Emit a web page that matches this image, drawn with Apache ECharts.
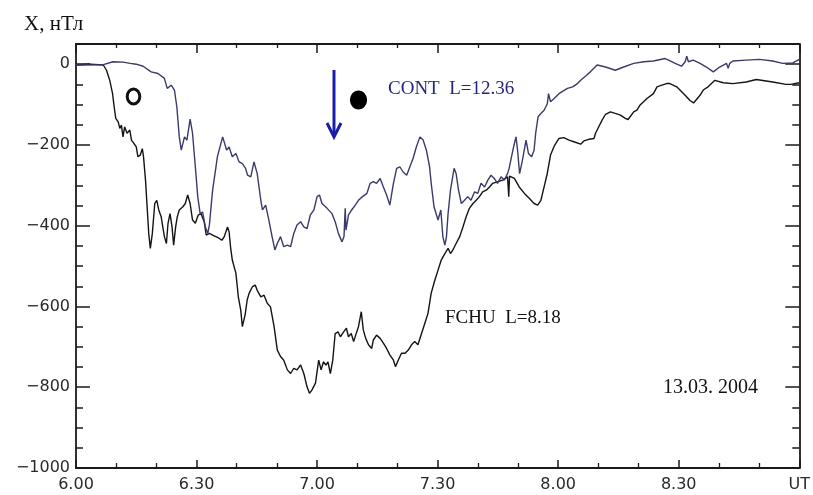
<!DOCTYPE html>
<html><head><meta charset="utf-8">
<script src="https://cdn.jsdelivr.net/npm/echarts@6/dist/echarts.min.js"></script>
<style>html,body{margin:0;padding:0;background:#fff}#c{width:813px;height:495px}</style>
</head><body><div id="c"></div>
<script>
// time in minutes after 06:00 UT, X component in nT
const contT = [0,6.8,9.2,11.7,13.5,15.0,16.7,18.7,20.4,22.0,22.7,23.7,24.5,25.1,25.7,26.2,27.0,27.6,28.4,29.0,29.7,30.3,30.9,31.5,32.2,32.8,33.2,34.0,35.2,36.5,36.9,37.5,38.1,38.9,39.8,40.6,41.4,42.2,42.7,43.5,44.3,45.1,46.0,46.4,47.2,48.0,48.8,49.5,50.1,50.9,51.7,52.6,53.4,54.2,55.0,55.9,56.7,57.5,58.3,59.2,60.0,60.6,61.2,62.5,63.7,64.5,65.3,66.2,66.7,67.0,67.2,67.8,68.6,69.5,70.3,71.3,72.4,73.2,74.0,74.8,75.7,76.5,77.3,78.1,79.0,79.8,80.6,81.4,82.3,83.1,83.9,84.7,85.6,86.4,87.2,88.0,88.4,89.1,90.1,90.8,91.3,91.8,92.2,92.6,93.2,94.1,94.6,95.2,95.9,96.7,97.5,98.3,99.2,100.0,100.8,101.7,102.5,103.3,104.1,104.9,105.8,106.6,107.4,107.8,108.2,108.9,109.5,109.9,110.4,111.1,112.0,112.6,113.4,114.0,114.4,115.0,115.7,116.5,117.3,117.6,118.1,119.0,120.2,122.3,123.6,124.8,125.6,127.0,128.0,129.7,131.8,134.2,136.3,138.8,141.3,143.7,146.6,147.5,149.1,150.7,151.6,152.0,152.4,153.6,155.3,156.9,158.6,160.2,161.9,162.3,162.7,163.5,166.8,170.1,173.4,175.9,178.4,180];
const contX = [-2,-1,6,5,2,0,-5,-19,-23,-35,-60,-52,-64,-106,-180,-213,-180,-188,-136,-171,-254,-328,-370,-366,-403,-419,-398,-312,-229,-180,-176,-213,-205,-229,-221,-242,-246,-258,-275,-279,-242,-271,-337,-361,-349,-386,-427,-460,-444,-427,-452,-448,-452,-419,-398,-390,-403,-407,-374,-361,-328,-324,-345,-357,-370,-390,-419,-440,-427,-357,-411,-374,-361,-349,-337,-328,-320,-295,-291,-295,-283,-304,-324,-349,-295,-258,-254,-267,-275,-254,-233,-205,-180,-188,-213,-254,-295,-353,-386,-361,-427,-448,-427,-370,-312,-258,-271,-312,-345,-337,-328,-337,-316,-320,-295,-304,-287,-275,-283,-295,-279,-287,-271,-258,-238,-205,-180,-213,-271,-238,-188,-221,-229,-213,-171,-130,-122,-114,-98,-73,-93,-85,-73,-60,-56,-48,-40,-28,-19,-2,-7,-15,-7,2,6,8,14,10,2,-5,6,20,6,10,2,-7,-19,-7,2,-10,2,8,10,12,8,2,3,12];
const fchuT = [0,3.5,6.8,7.6,8.4,9.1,9.5,9.9,10.5,10.9,11.3,11.7,12.1,12.7,13.4,13.8,14.4,15.0,15.4,16.0,16.5,16.8,17.3,17.7,18.1,18.5,19.0,19.6,20.1,20.6,21.2,21.6,22.0,22.5,22.9,23.4,23.9,24.3,24.8,25.2,25.7,26.6,27.2,27.8,28.4,29.0,29.7,30.4,31.1,31.9,32.4,33.2,34.0,34.8,35.6,36.3,36.9,37.7,38.1,38.5,38.9,39.8,40.4,41.0,41.4,42.1,42.6,43.1,43.9,44.6,45.1,46.0,46.8,47.6,48.4,49.3,50.1,50.9,51.7,52.6,53.4,54.2,55.0,55.9,56.7,57.5,58.1,58.7,59.6,60.4,61.0,61.6,62.2,62.7,63.3,63.9,64.5,65.2,65.8,66.6,67.3,67.8,68.5,69.1,69.6,70.3,71.0,71.5,72.1,72.8,73.6,74.0,74.8,75.7,76.5,77.3,78.1,79.0,79.5,80.2,81.0,81.9,82.7,83.5,84.3,85.1,86.0,86.8,87.6,88.4,89.3,90.1,90.9,91.8,92.6,93.2,93.8,94.6,95.5,96.3,97.1,97.9,98.8,99.6,100.4,101.2,102.1,102.9,103.7,105.0,106.2,107.4,107.7,107.9,109.1,110.3,111.6,112.8,114.0,114.9,115.7,116.5,117.3,118.1,119.0,120.2,121.4,122.7,123.9,125.6,126.4,127.6,128.9,129.3,130.1,130.9,131.8,133.0,134.2,135.5,136.7,137.4,138.8,139.6,140.4,142.1,143.7,144.6,145.8,147.0,147.8,149.5,151.6,152.8,153.7,155.3,156.1,157.3,159.0,161.1,163.5,166.8,169.3,173.4,176.7,177.9,180];
const fchuX = [-2,0,-2,-15,-40,-73,-106,-134,-143,-159,-151,-180,-155,-171,-163,-188,-196,-205,-229,-225,-209,-229,-287,-353,-419,-456,-419,-345,-337,-361,-378,-403,-427,-444,-394,-370,-403,-448,-403,-378,-361,-353,-345,-324,-345,-386,-394,-374,-370,-390,-423,-419,-423,-427,-431,-436,-427,-403,-415,-456,-485,-518,-576,-609,-650,-620,-584,-567,-551,-547,-560,-576,-572,-592,-601,-650,-708,-724,-733,-757,-766,-753,-757,-745,-766,-799,-815,-807,-790,-733,-757,-737,-745,-737,-766,-733,-667,-663,-675,-663,-654,-675,-667,-687,-671,-650,-613,-658,-679,-695,-704,-683,-671,-679,-691,-704,-720,-733,-749,-733,-716,-716,-708,-695,-687,-695,-667,-642,-617,-567,-535,-510,-485,-469,-456,-469,-460,-444,-427,-403,-378,-357,-345,-337,-328,-316,-312,-304,-295,-291,-287,-279,-328,-277,-283,-304,-320,-332,-345,-349,-337,-304,-270,-225,-203,-184,-182,-188,-192,-198,-190,-186,-184,-171,-155,-139,-124,-118,-122,-126,-134,-137,-118,-114,-101,-85,-73,-56,-52,-48,-48,-56,-77,-90,-96,-77,-64,-56,-40,-46,-48,-44,-38,-44,-50,-50,-46];
const xTickLabels = ['6.00','6.30','7.00','7.30','8.00','8.30','UT'];
const yTickLabels = ['\u22121000','\u2212800','\u2212600','\u2212400','\u2212200','0'];

const zip = (t, v) => t.map((x, i) => [x, v[i]]);
const axisFont = { fontFamily: 'DejaVu Sans', fontSize: 16, color: '#2a2a2a' };
const lineCol = '#1a1a1a';

const chart = echarts.init(document.getElementById('c'), null, { renderer: 'canvas' });
const xBase = (pos, major, minor, labels) => ({
  type: 'value', position: pos, min: 0, max: 180, interval: 30,
  axisLine: { show: true, onZero: false, lineStyle: { color: lineCol, width: 1.8 } },
  axisTick: { show: true, inside: true, length: major, lineStyle: { color: lineCol, width: 1.5 } },
  minorTick: { show: true, splitNumber: 3, length: minor, lineStyle: { color: lineCol, width: 1.3 } },
  splitLine: { show: false },
  axisLabel: labels ? Object.assign({ margin: 9, formatter: v => xTickLabels[Math.round(v / 30)] }, axisFont) : { show: false }
});
const yBase = (pos, interval, len, labels, line) => ({
  type: 'value', position: pos, min: -1000, max: 50, interval: interval,
  axisLine: { show: line, onZero: false, lineStyle: { color: lineCol, width: 1.8 } },
  axisTick: { show: true, inside: true, length: len, lineStyle: { color: lineCol, width: 1.5 } },
  splitLine: { show: false },
  axisLabel: labels ? Object.assign({ margin: 6, showMaxLabel: false,
    formatter: v => (v <= 0 ? yTickLabels[Math.round((v + 1000) / 200)] : '') }, axisFont) : { show: false }
});

chart.setOption({
  animation: false,
  backgroundColor: '#fff',
  grid: { left: 76, right: 10, top: 44, bottom: 27, containLabel: false },
  xAxis: [ xBase('bottom', 8, 5, true), xBase('top', 9, 4, false) ],
  yAxis: [
    yBase('left', 200, 14, true, true),
    yBase('left', 50, 7, false, false),
    yBase('right', 200, 14, false, true),
    yBase('right', 50, 7, false, false)
  ],
  series: [
    { name: 'FCHU L=8.18', type: 'line', data: zip(fchuT, fchuX), showSymbol: false, symbol: 'none',
      lineStyle: { color: '#141414', width: 1.4 }, z: 3 },
    { name: 'CONT L=12.36', type: 'line', data: zip(contT, contX), showSymbol: false, symbol: 'none',
      lineStyle: { color: '#3a3a6c', width: 1.4 }, z: 4 }
  ],
  graphic: [
    { type: 'text', left: 24, top: 14, style: { text: 'X, нТл', font: '21px "Liberation Serif"', fill: '#111' } },
    { type: 'ellipse', shape: { cx: 133.5, cy: 96.5, rx: 6.3, ry: 7.4 }, style: { fill: 'none', stroke: '#111', lineWidth: 3 } },
    { type: 'ellipse', shape: { cx: 358.5, cy: 100, rx: 8.5, ry: 9.5 }, style: { fill: '#000' } },
    { type: 'line', shape: { x1: 334, y1: 70, x2: 334, y2: 136 }, style: { stroke: '#1c1caa', lineWidth: 3 } },
    { type: 'polyline', shape: { points: [[327, 123], [334, 137], [341, 123]] }, style: { stroke: '#1c1caa', lineWidth: 3, fill: 'none' } },
    { type: 'text', left: 388, top: 80, style: { text: 'CONT  L=12.36', font: '19px "Liberation Serif"', fill: '#26267a' } },
    { type: 'text', left: 445, top: 309, style: { text: 'FCHU  L=8.18', font: '19px "Liberation Serif"', fill: '#111' } },
    { type: 'text', left: 663, top: 378, style: { text: '13.03. 2004', font: '20px "Liberation Serif"', fill: '#111' } }
  ]
});
</script></body></html>
